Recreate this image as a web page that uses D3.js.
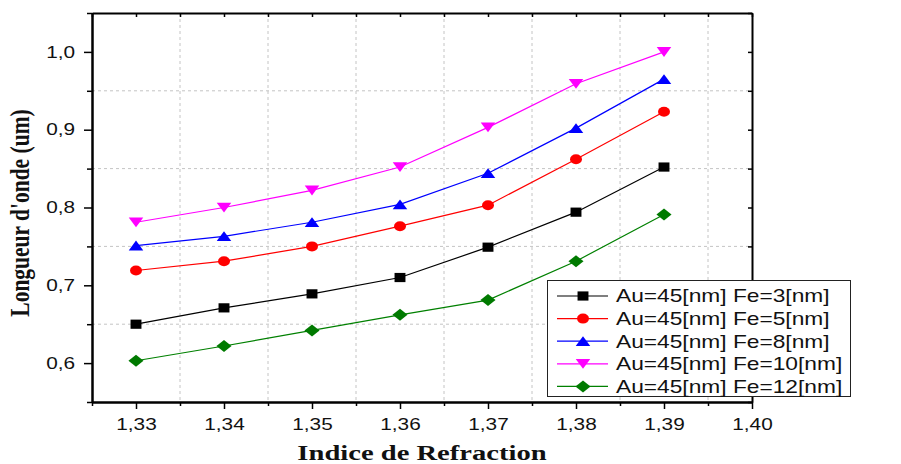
<!DOCTYPE html>
<html>
<head>
<meta charset="utf-8">
<script src="https://cdn.jsdelivr.net/npm/d3@7"></script>
<style>
  html, body { margin: 0; padding: 0; background: #fff; }
  svg { display: block; }
</style>
</head>
<body>
<svg id="chart" width="901" height="464"></svg>
<script>
// Refractive index values on the x axis
const refractiveIndex = [1.33, 1.34, 1.35, 1.36, 1.37, 1.38, 1.39];

// Resonance wavelength (um) per Fe thickness, Au = 45 nm
const fe3  = [0.650, 0.671, 0.689, 0.710, 0.749, 0.794, 0.852];
const fe5  = [0.719, 0.731, 0.750, 0.776, 0.803, 0.862, 0.923];
const fe8  = [0.751, 0.763, 0.781, 0.804, 0.844, 0.902, 0.965];
const fe10 = [0.781, 0.800, 0.822, 0.852, 0.903, 0.959, 1.000];
const fe12 = [0.603, 0.622, 0.642, 0.662, 0.681, 0.731, 0.791];

const seriesNames = [
  "Au=45[nm] Fe=3[nm]",
  "Au=45[nm] Fe=5[nm]",
  "Au=45[nm] Fe=8[nm]",
  "Au=45[nm] Fe=10[nm]",
  "Au=45[nm] Fe=12[nm]"
];

// Tick values
const xMajorTicks = [1.33, 1.34, 1.35, 1.36, 1.37, 1.38, 1.39, 1.40];
const xMinorTicks = [1.325, 1.335, 1.345, 1.355, 1.365, 1.375, 1.385, 1.395];
const yMajorTicks = [0.6, 0.7, 0.8, 0.9, 1.0];
const yMinorTicks = [0.55, 0.65, 0.75, 0.85, 0.95, 1.05];

const seriesValues = [fe3, fe5, fe8, fe10, fe12];
const lineColors   = ["#000000", "#ff0000", "#0000ff", "#ff00ff", "#008000"];
const markerColors = ["#000000", "#ff0000", "#0000ff", "#ff00ff", "#007a00"];
const markerShapes = ["square", "circle", "triangleUp", "triangleDown", "diamond"];

// Horizontal stretch applied to text and markers
const SX = 1.3;

const svg = d3.select("#chart");
svg.append("rect").attr("width", 901).attr("height", 464).attr("fill", "#fff");

const plotLeft = 92, plotRight = 752, plotTop = 13, plotBottom = 402;
const x = d3.scaleLinear().domain([1.325, 1.40]).range([plotLeft, plotRight]);
const y = d3.scaleLinear().domain([0.55, 1.05]).range([plotBottom, plotTop]);

const commaFmt = f => v => d3.format(f)(v).replace(".", ",");

// Dashed grid at the minor positions
const grid = svg.append("g");
grid.selectAll("line.gx")
  .data(xMinorTicks.filter(v => v > 1.326))
  .join("line")
  .attr("x1", d => x(d)).attr("x2", d => x(d))
  .attr("y1", plotTop).attr("y2", plotBottom)
  .attr("stroke", "#c4c4c4").attr("stroke-width", 1).attr("stroke-dasharray", "3,3");
grid.selectAll("line.gy")
  .data(yMinorTicks.filter(v => v > 0.56 && v < 1.04))
  .join("line")
  .attr("x1", plotLeft).attr("x2", plotRight)
  .attr("y1", d => y(d)).attr("y2", d => y(d))
  .attr("stroke", "#c4c4c4").attr("stroke-width", 1).attr("stroke-dasharray", "3,3");

// Series lines
const line = d3.line().x((d, i) => x(refractiveIndex[i])).y(d => y(d));
seriesValues.forEach((vals, s) => {
  svg.append("path")
    .attr("d", line(vals))
    .attr("fill", "none")
    .attr("stroke", lineColors[s])
    .attr("stroke-width", 1.2);
});

// Marker shapes (drawn before horizontal stretch)
function markerPath(shape) {
  switch (shape) {
    case "square": return "M-4.2,-4.6H4.2V4.6H-4.2Z";
    case "circle": return "M-4.6,0A4.6,5 0 1,0 4.6,0A4.6,5 0 1,0 -4.6,0Z";
    case "triangleUp": return "M0,-5L5.6,4.8L-5.6,4.8Z";
    case "triangleDown": return "M-5.6,-4.8L5.6,-4.8L0,5Z";
    case "diamond": return "M0,-6L5.8,0L0,6L-5.8,0Z";
  }
}

seriesValues.forEach((vals, s) => {
  svg.append("g").selectAll("path")
    .data(vals)
    .join("path")
    .attr("d", markerPath(markerShapes[s]))
    .attr("transform", (d, i) => `translate(${x(refractiveIndex[i])},${y(d)}) scale(${SX},1)`)
    .attr("fill", markerColors[s]);
});

// Axes
function styleAxis(g, width) {
  g.select(".domain").attr("stroke", "#000").attr("stroke-width", width);
  g.selectAll(".tick line").attr("stroke", "#000").attr("stroke-width", 1.5);
}

// bottom
const gxMinor = svg.append("g").attr("transform", `translate(0,${plotBottom})`)
  .call(d3.axisBottom(x).tickValues(xMinorTicks).tickSize(4).tickSizeOuter(0).tickFormat(""));
styleAxis(gxMinor, 2);
const gx = svg.append("g").attr("transform", `translate(0,${plotBottom})`)
  .call(d3.axisBottom(x).tickValues(xMajorTicks).tickSize(7).tickSizeOuter(0).tickFormat(commaFmt(".2f")));
styleAxis(gx, 2);
gx.selectAll(".tick text")
  .attr("y", 16.5)
  .attr("transform", `scale(${SX},1)`)
  .attr("font-family", "'Liberation Sans', Arial, sans-serif")
  .attr("font-size", 16)
  .attr("fill", "#111");

// left
const gyMinor = svg.append("g").attr("transform", `translate(${plotLeft},0)`)
  .call(d3.axisLeft(y).tickValues(yMinorTicks).tickSize(5).tickSizeOuter(0).tickFormat(""));
styleAxis(gyMinor, 2);
const gy = svg.append("g").attr("transform", `translate(${plotLeft},0)`)
  .call(d3.axisLeft(y).tickValues(yMajorTicks).tickSize(8).tickSizeOuter(0).tickFormat(commaFmt(".1f")));
styleAxis(gy, 2);
gy.selectAll(".tick text")
  .attr("x", -13)
  .attr("transform", `scale(${SX},1)`)
  .attr("font-family", "'Liberation Sans', Arial, sans-serif")
  .attr("font-size", 16)
  .attr("fill", "#111");

// top (ticks inward)
const gt = svg.append("g").attr("transform", `translate(0,${plotTop})`)
  .call(d3.axisBottom(x).tickValues(xMajorTicks.concat(xMinorTicks)).tickSize(4).tickSizeOuter(0).tickFormat(""));
styleAxis(gt, 2);

// right (ticks inward)
const gr = svg.append("g").attr("transform", `translate(${plotRight},0)`)
  .call(d3.axisLeft(y).tickValues(yMajorTicks.concat(yMinorTicks)).tickSize(4).tickSizeOuter(0).tickFormat(""));
styleAxis(gr, 2);

// Axis titles
svg.append("text")
  .attr("transform", `translate(${(plotLeft + plotRight) / 2},460) scale(${SX},1)`)
  .attr("text-anchor", "middle")
  .attr("font-family", "'Liberation Serif', 'Times New Roman', serif")
  .attr("font-weight", "bold")
  .attr("font-size", 22)
  .attr("fill", "#111")
  .text("Indice de Refraction");

svg.append("text")
  .attr("transform", `translate(29,213) scale(${SX},1) rotate(-90)`)
  .attr("text-anchor", "middle")
  .attr("font-family", "'Liberation Serif', 'Times New Roman', serif")
  .attr("font-weight", "bold")
  .attr("font-size", 21.5)
  .attr("fill", "#111")
  .text("Longueur d'onde (um)");

// Legend
const legend = svg.append("g");
legend.append("rect")
  .attr("x", 547.5).attr("y", 280.5).attr("width", 303).attr("height", 116)
  .attr("fill", "#fff").attr("stroke", "#222").attr("stroke-width", 1);

seriesNames.forEach((name, s) => {
  const ry = 296 + s * 22.6;
  legend.append("line")
    .attr("x1", 557).attr("x2", 608).attr("y1", ry).attr("y2", ry)
    .attr("stroke", lineColors[s]).attr("stroke-width", 1.2);
  legend.append("path")
    .attr("d", markerPath(markerShapes[s]))
    .attr("transform", `translate(583,${ry}) scale(${SX},1)`)
    .attr("fill", markerColors[s]);
  legend.append("text")
    .attr("transform", `translate(616,${ry + 6.3}) scale(${SX},1)`)
    .attr("font-family", "'Liberation Sans', Arial, sans-serif")
    .attr("font-size", 17.5)
    .attr("fill", "#111")
    .text(name);
});
</script>
</body>
</html>
